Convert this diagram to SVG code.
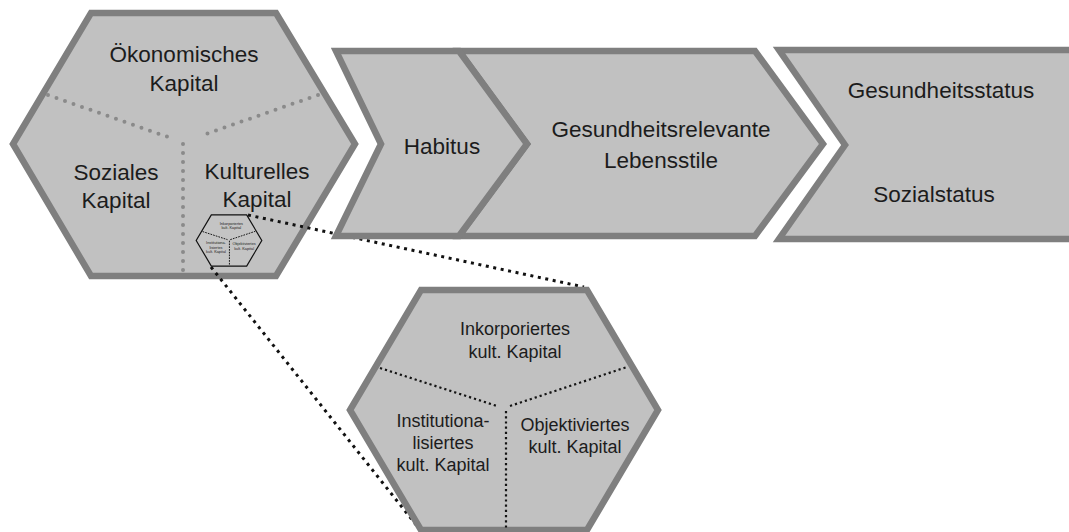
<svg xmlns="http://www.w3.org/2000/svg" xmlns:xlink="http://www.w3.org/1999/xlink" width="1069" height="532" viewBox="0 0 1069 532">
  <style>
    .shape { fill: #c1c1c1; stroke: #7f7f7f; stroke-width: 6.5; stroke-linejoin: miter; }
    .label { font-family: "Liberation Sans", Arial, sans-serif; fill: #1c1c1c; text-anchor: middle; }
    .big { font-size: 22.5px; }
    .mid { font-size: 18px; }
    .sector-gray { fill: none; stroke: #8a8a8a; stroke-width: 4; stroke-linecap: round; stroke-dasharray: 0 9; }
    .sector-black { fill: none; stroke: #141414; stroke-width: 2.2; stroke-dasharray: 2.2 3; }
    .mini-outline { fill: #c4c4c4; stroke: #111; stroke-width: 5.6; }
    .mini-lines { fill: none; stroke: #111; stroke-width: 4.5; stroke-dasharray: 8 5; }
    .link { fill: none; stroke: #111; stroke-width: 3; stroke-dasharray: 3 4.6; }
  </style>
  <defs>
    <!-- hexagon of the three forms of cultural capital, drawn once and reused -->
    <polygon id="kultHex" points="421,290 587,290 658,410 587,530 421,530 350,410"/>
    <g id="kultDividers">
      <line x1="380" y1="368" x2="497" y2="406"/>
      <line x1="510" y1="406" x2="627" y2="367"/>
      <line x1="506" y1="411" x2="506" y2="528"/>
    </g>
    <g id="kultLabels" class="label mid">
      <text x="515" y="335">Inkorporiertes</text>
      <text x="515" y="358">kult. Kapital</text>
      <text x="443" y="427">Institutiona-</text>
      <text x="443" y="449">lisiertes</text>
      <text x="443" y="471">kult. Kapital</text>
      <text x="575" y="431">Objektiviertes</text>
      <text x="575" y="453">kult. Kapital</text>
    </g>
  </defs>

  <!-- capital hexagon -->
  <g id="kapital-hexagon">
    <polygon class="shape" points="91,13 276,13 355,144 276,276 91,276 13,144"/>
    <line class="sector-gray" x1="48" y1="95" x2="168" y2="137"/>
    <line class="sector-gray" x1="318" y1="95" x2="200" y2="136"/>
    <line class="sector-gray" x1="183" y1="144" x2="183" y2="271"/>
    <text class="label big" x="184" y="62">Ökonomisches</text>
    <text class="label big" x="184" y="91">Kapital</text>
    <text class="label big" x="116" y="180">Soziales</text>
    <text class="label big" x="116" y="208">Kapital</text>
    <text class="label big" x="257" y="179">Kulturelles</text>
    <text class="label big" x="257" y="207">Kapital</text>
  </g>

  <!-- miniature of the cultural capital hexagon -->
  <g id="kult-hexagon-mini" transform="translate(229,240.5) scale(0.213) translate(-504,-410)">
    <use xlink:href="#kultHex" class="mini-outline"/>
    <use xlink:href="#kultDividers" class="mini-lines"/>
    <use xlink:href="#kultLabels"/>
  </g>

  <!-- zoom connectors -->
  <g id="connectors">
    <line class="link" x1="248" y1="215" x2="584" y2="287"/>
    <line class="link" x1="211" y1="267" x2="421" y2="531"/>
  </g>

  <!-- process chevrons -->
  <g id="lebensstile-chevron">
    <polygon class="shape" points="459,51 755,51 823,144 755,236 459,236 527,144"/>
    <text class="label big" x="661" y="137">Gesundheitsrelevante</text>
    <text class="label big" x="661" y="168">Lebensstile</text>
  </g>
  <g id="habitus-chevron">
    <polygon class="shape" points="336,51 459,51 527,144 459,236 336,236 381,144"/>
    <text class="label big" x="442" y="154">Habitus</text>
  </g>
  <g id="status-block">
    <polygon class="shape" points="779,50 1076,50 1076,239 779,239 845,145"/>
    <text class="label big" x="941" y="98">Gesundheitsstatus</text>
    <text class="label big" x="934" y="202">Sozialstatus</text>
  </g>

  <!-- enlarged cultural capital hexagon -->
  <g id="kult-hexagon">
    <use xlink:href="#kultHex" class="shape"/>
    <use xlink:href="#kultDividers" class="sector-black"/>
    <use xlink:href="#kultLabels"/>
  </g>
</svg>
